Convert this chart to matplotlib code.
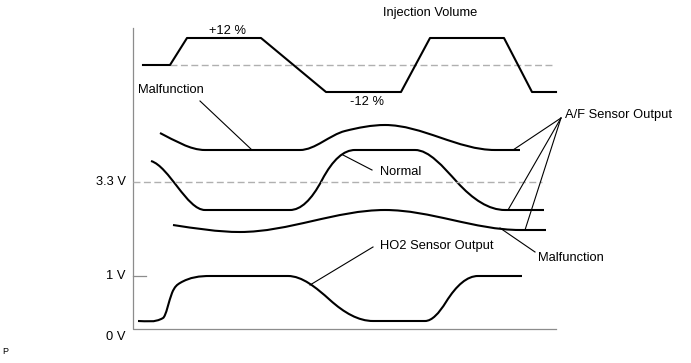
import matplotlib
matplotlib.use("Agg")
import matplotlib.pyplot as plt
from matplotlib.path import Path
from matplotlib.patches import PathPatch

plt.rcParams['font.family'] = ['Liberation Sans', 'DejaVu Sans']

# coordinates: x = time position, y = level (screen units, grows downward)

# injection volume trace
inj_x = [143, 170, 187, 261, 326, 401, 430, 504, 532, 556]
inj_y = [65, 65, 38, 38, 92, 92, 38, 38, 92, 92]

# A/F sensor traces: knots (x, y, slope)
af_upper = [(160, 133, 0.5), (205, 150, 0), (300, 150, 0), (345, 131, -0.25),
            (385, 125, 0), (495, 150, 0), (520, 150, 0)]
af_normal = [(151, 161, 0.3), (205, 210, 0), (290, 210, 0), (322, 180, -1.9),
             (355, 150, 0), (415, 150, 0), (457, 182, 1.1), (505, 210, 0),
             (544, 210, 0)]
af_lower = [(173, 225, 0.15), (240, 232, 0), (385, 210, 0), (520, 230, 0),
            (546, 230, 0)]

# HO2 sensor trace
ho2 = [(138, 321, 0), (163, 318, -0.6), (172, 293, -2.5), (180, 283, -0.6),
       (210, 276, 0), (288, 276, 0), (330, 300, 0.9), (373, 321, 0),
       (425, 321, 0), (446, 302, -1.6), (478, 276, 0), (522, 276, 0)]

# leader lines (from, to)
leaders = [((200, 101), (252, 150)),
           ((372, 170), (343, 155)),
           ((561, 118), (513, 150)),
           ((561, 118), (508, 210)),
           ((561, 118), (525, 230)),
           ((535, 252), (500, 228)),
           ((373, 247), (310, 285))]

level_labels = ["3.3 V", "1 V", "0 V"]
level_y = [182, 276, 337]


def smooth_path(knots):
    verts = [(knots[0][0], knots[0][1])]
    codes = [Path.MOVETO]
    for (x0, y0, s0), (x1, y1, s1) in zip(knots[:-1], knots[1:]):
        d = (x1 - x0) / 3
        verts += [(x0 + d, y0 + s0 * d), (x1 - d, y1 - s1 * d), (x1, y1)]
        codes += [Path.CURVE4] * 3
    return Path(verts, codes)


fig = plt.figure(figsize=(6.91, 3.63), dpi=100)
ax = fig.add_axes([0, 0, 1, 1])
ax.set_xlim(0, 691)
ax.set_ylim(363, 0)
ax.axis("off")

# axes frame
ax.plot([133, 133, 556], [28, 329, 329], color="#8c8c8c", lw=0.9)
ax.plot([133, 146], [276, 276], color="#8c8c8c", lw=0.9)

# reference dashed lines
ax.plot([133, 542], [182, 182], color="#b0b0b0", lw=1.0, dashes=(5, 2.5))
ax.plot([170, 553], [65, 65], color="#b0b0b0", lw=1.0, dashes=(5, 2.5))

ax.plot(inj_x, inj_y, color="black", lw=1.5)

for knots in [af_upper, af_normal, af_lower, ho2]:
    ax.add_patch(PathPatch(smooth_path(knots), fill=False, ec="black", lw=1.5))

for (x0, y0), (x1, y1) in leaders:
    ax.plot([x0, x1], [y0, y1], color="black", lw=0.8)

fs = 9.3
for lab, y in zip(level_labels, level_y):
    ax.text(126, y, lab, ha="right", va="center", fontsize=fs)

ax.text(383, 13, "Injection Volume", ha="left", va="center", fontsize=fs)
ax.text(228, 31, "+12 %", ha="center", va="center", fontsize=fs)
ax.text(367, 102, "-12 %", ha="center", va="center", fontsize=fs)
ax.text(138, 90, "Malfunction", ha="left", va="center", fontsize=fs)
ax.text(380, 172, "Normal", ha="left", va="center", fontsize=fs)
ax.text(565, 115, "A/F Sensor Output", ha="left", va="center", fontsize=fs)
ax.text(538, 258, "Malfunction", ha="left", va="center", fontsize=fs)
ax.text(380, 246, "HO2 Sensor Output", ha="left", va="center", fontsize=fs)
ax.text(2, 352, "P", ha="left", va="center", fontsize=6.5)

fig.savefig("out.png", dpi=100)
